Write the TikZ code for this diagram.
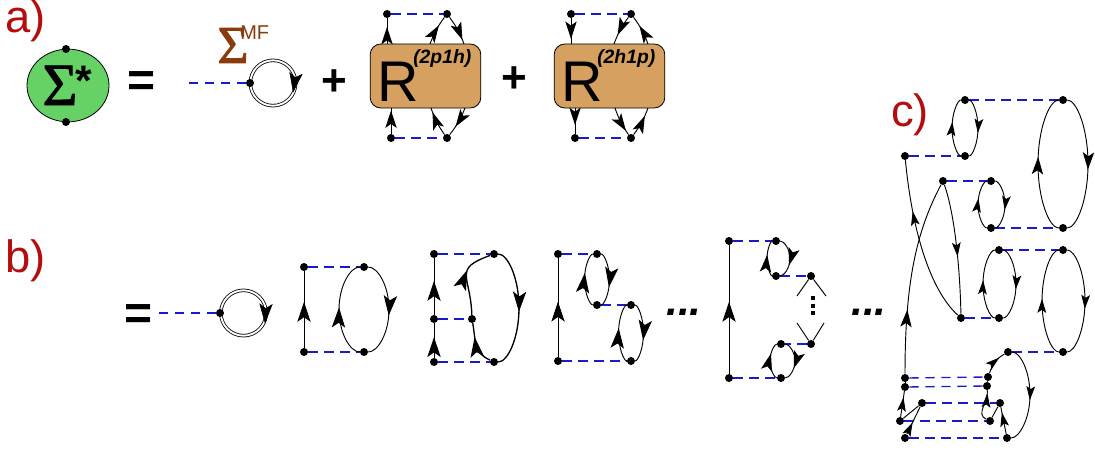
\documentclass[tikz,border=0pt]{standalone}
\usepackage{fontspec}
\setmainfont{Liberation Sans}
\newfontfamily\sigmafont[FakeBold=1.5]{Liberation Serif}
\usetikzlibrary{arrows.meta,decorations.markings,shapes.geometric,calc}
\newcommand\fsz[1]{\fontsize{#1}{#1}\selectfont}
\definecolor{lblred}{HTML}{B50D0D}
\definecolor{sgreen}{HTML}{66D266}
\definecolor{sbrown}{HTML}{8B3A0B}
\definecolor{rtan}{HTML}{D6A060}
\definecolor{vblue}{HTML}{1A1ACD}
\tikzset{
  tipL/.style={postaction={decorate,decoration={markings,mark=at position #1 with {\arrow{Stealth[length=15pt,width=10pt,inset=3.5pt]}}}}},
  tipM/.style={postaction={decorate,decoration={markings,mark=at position #1 with {\arrow{Stealth[length=13pt,width=8.5pt,inset=3pt]}}}}},
  tipS/.style={postaction={decorate,decoration={markings,mark=at position #1 with {\arrow{Stealth[length=10.5pt,width=6.5pt,inset=2.2pt]}}}}},
  dotn/.style={circle,fill=black,inner sep=0pt,minimum size=6pt},
  vint/.style={draw=vblue,line width=1.2pt,dash pattern=on 7pt off 5pt},
  prop/.style={draw=black,line width=.7pt},
  % half ellipse from node to node, bulging by #1 px (positive: to the right)
  ell/.style={to path={let \p1=(\tikztostart.center),\p2=(\tikztotarget.center),
      \n1={(#1)*.75pt},\n2={.5*(\y1+\y2)},\n3={.27615*(\y2-\y1)} in
      .. controls (\x1+.5523*\n1,\y1) and (\x1+\n1,\n2-\n3) .. (\x1+\n1,\n2)
      .. controls (\x1+\n1,\n2+\n3) and (\x2+.5523*\n1,\y2) .. (\tikztotarget) \tikztonodes}},
  txt/.style={anchor=base,inner sep=0pt},
  rbox/.style={draw=black,line width=.6pt,fill=rtan,rounded corners=8pt,minimum width=83pt,minimum height=48pt,inner sep=0pt},
  dprop/.style={circle,draw=black,double=white,double distance=1.4pt,line width=.6pt,inner sep=0pt,minimum size=34pt},
  lbl/.style={anchor=base west,inner sep=0pt,text=lblred,font=\fsz{34}},
}
\begin{document}
\begin{tikzpicture}[x=.75pt,y=-.75pt]
\useasboundingbox (0,0) rectangle (1095,453);
% labels
\node[lbl] (la) at (5,33) {a)};
\node[lbl] (lb) at (5,272) {b)};
\node[lbl] (lc) at (891,126) {c)};
% ---------- a) ----------
\node[ellipse,draw=black,line width=.6pt,fill=sgreen,minimum width=61.5pt,minimum height=54.5pt,inner sep=0pt] (sig) at (68,85.5) {};
\node[dotn] (s1) at (66,49) {};
\node[dotn] (s2) at (66,122) {};
\node[txt,font=\sigmafont\fsz{45}] (sigt) at (60,105) {Σ};
\node[txt,font=\bfseries\fsz{32}] (star) at (84,95) {*};
\node[txt,font=\bfseries\fsz{36}] (eq1) at (142,97) {=};
\node[txt,font=\sigmafont\fsz{40},text=sbrown] (smf) at (233,63) {Σ};
\node[anchor=base west,inner sep=0pt,font=\fsz{15},text=sbrown] (mf) at (240,40) {MF};
\coordinate (a0) at (189,83);
\node[dprop] (c1) at (273,83) {};
\node[dotn] (a1) at (250,83) {};
\draw[vint] (a0) -- (a1);
\coordinate (a2) at (296,73);
\coordinate (a3) at (293,93);
\path[tipL=.98] (a2) -- (a3);
\node[txt,font=\bfseries\fsz{33}] (p1) at (334,95) {+};
\node[txt,font=\bfseries\fsz{33}] (p2) at (514,93) {+};
% box 1
\node[rbox] (r1) at (425.5,76) {};
\node[anchor=base west,inner sep=0pt,font=\fsz{43}] (r1t) at (377,102) {R};
\node[anchor=base west,inner sep=0pt,font=\bfseries\itshape\fsz{14.5}] (r1s) at (413,64) {(2p1h)};
\node[dotn] (t1) at (387,14) {};
\node[dotn] (t2) at (447,14) {};
\node[dotn] (t3) at (391,138) {};
\node[dotn] (t4) at (447,138) {};
\coordinate (e1) at (387,44);
\coordinate (e2) at (430,44);
\coordinate (e3) at (464,44);
\coordinate (e4) at (391,108);
\coordinate (e5) at (431,108);
\coordinate (e6) at (465,108);
\draw[vint] (t1) -- (t2);
\draw[vint] (t3) -- (t4);
\draw[prop,tipM=.66] (e1) -- (t1);
\draw[prop,tipM=.68] (e2) to[bend left=8] (t2);
\draw[prop,tipM=.85] (t2) to[bend left=8] (e3);
\draw[prop,tipM=.9] (t3) -- (e4);
\draw[prop,tipM=.85] (t4) to[bend left=8] (e5);
\draw[prop,tipM=.68] (e6) to[bend left=8] (t4);
% box 2
\node[rbox] (r2) at (609.5,76) {};
\node[anchor=base west,inner sep=0pt,font=\fsz{43}] (r2t) at (561,102) {R};
\node[anchor=base west,inner sep=0pt,font=\bfseries\itshape\fsz{14.5}] (r2s) at (597,64) {(2h1p)};
\node[dotn] (u1) at (571,14) {};
\node[dotn] (u2) at (631,14) {};
\node[dotn] (u3) at (575,138) {};
\node[dotn] (u4) at (631,138) {};
\coordinate (f1) at (571,44);
\coordinate (f2) at (614,44);
\coordinate (f3) at (648,44);
\coordinate (f4) at (575,108);
\coordinate (f5) at (615,108);
\coordinate (f6) at (648,108);
\draw[vint] (u1) -- (u2);
\draw[vint] (u3) -- (u4);
\draw[prop,tipM=.8] (u1) -- (f1);
\draw[prop,tipM=.68] (u2) to[bend right=8] (f2);
\draw[prop,tipM=.66] (f3) to[bend right=8] (u2);
\draw[prop,tipM=.66] (f4) -- (u3);
\draw[prop,tipM=.85] (f5) to[bend right=8] (u4);
\draw[prop,tipM=.72] (u4) to[bend right=8] (f6);
% ---------- b) ----------
\node[txt,font=\bfseries\fsz{36}] (eq2) at (139,329) {=};
\coordinate (b0) at (159,313);
\node[dprop] (c2) at (243.5,313) {};
\node[dotn] (b1) at (220,313) {};
\draw[vint] (b0) -- (b1);
\coordinate (b2) at (266,304);
\coordinate (b3) at (265,324);
\path[tipL=.98] (b2) -- (b3);
% diagram 2
\node[dotn] (d1) at (304,267) {};
\node[dotn] (d2) at (304,352) {};
\node[dotn] (d3) at (364,267) {};
\node[dotn] (d4) at (364,352) {};
\draw[vint] (d1) -- (d3);
\draw[vint] (d2) -- (d4);
\draw[prop,tipL=.6] (d2) -- (d1);
\draw[prop,tipL=.56,ell=25] (d3) to (d4);
\draw[prop,tipL=.52,ell=-25] (d4) to (d3);
% diagram 3
\node[dotn] (g1) at (434,254) {};
\node[dotn] (g2) at (434,319) {};
\node[dotn] (g3) at (434,362) {};
\node[dotn] (g4) at (494,254) {};
\node[dotn] (g5) at (472,319) {};
\node[dotn] (g6) at (494,362) {};
\draw[vint] (g1) -- (g4);
\draw[vint] (g2) -- (g5);
\draw[vint] (g3) -- (g6);
\draw[prop,tipL=.6] (g2) -- (g1);
\draw[prop,tipL=.6] (g3) -- (g2);
\draw[prop,line width=1pt,tipL=.53,ell=25] (g4) to (g6);
\draw[prop,line width=1pt,tipL=.68] (g6) to[out=155,in=-80,distance=14pt] (g5);
\draw[prop,line width=1pt,tipL=.62] (g5) to[out=92,in=200,distance=30pt] (g4);
% diagram 4
\node[dotn] (h1) at (558,254) {};
\node[dotn] (h2) at (558,361) {};
\node[dotn] (h3) at (597,254) {};
\node[dotn] (h4) at (597,305) {};
\node[dotn] (h5) at (631,305) {};
\node[dotn] (h6) at (631,361) {};
\draw[vint] (h1) -- (h3);
\draw[vint] (h4) -- (h5);
\draw[vint] (h2) -- (h6);
\draw[prop,tipL=.56] (h2) -- (h1);
\draw[prop,tipL=.64,ell=12.5] (h3) to (h4);
\draw[prop,tipL=.62,ell=-12.5] (h4) to (h3);
\draw[prop,tipL=.62,ell=12.5] (h5) to (h6);
\draw[prop,tipL=.58,ell=-12.5] (h6) to (h5);
% dots
\node[txt,font=\bfseries\itshape\fsz{32}] (el1) at (684,315) {...};
\node[txt,font=\bfseries\itshape\fsz{32}] (el2) at (869,315) {...};
% diagram 5
\node[dotn] (i1) at (729,241) {};
\node[dotn] (i2) at (729,378) {};
\node[dotn] (i3) at (776,241) {};
\node[dotn] (i4) at (776,276) {};
\node[dotn] (i5) at (811,276) {};
\node[dotn] (i6) at (811,344) {};
\node[dotn] (i7) at (781,344) {};
\node[dotn] (i8) at (781,378) {};
\draw[vint] (i1) -- (i3);
\draw[vint] (i4) -- (i5);
\draw[vint] (i6) -- (i7);
\draw[vint] (i2) -- (i8);
\draw[prop,tipL=.56] (i2) -- (i1);
\draw[prop,tipM=.66,ell=14] (i3) to (i4);
\draw[prop,tipM=.6,ell=-9] (i4) to (i3);
\draw[prop,tipM=.68,ell=14] (i7) to (i8);
\draw[prop,tipM=.7,ell=-11] (i8) to (i7);
\coordinate (v1) at (797,296);
\coordinate (v2) at (826,296);
\coordinate (v3) at (797,323);
\coordinate (v4) at (824,323);
\draw[prop] (i5) -- (v1);
\draw[prop] (i5) -- (v2);
\draw[prop] (i6) -- (v3);
\draw[prop] (i6) -- (v4);
\node[fill=black,inner sep=0pt,minimum size=2.4pt] (w1) at (813,298) {};
\node[fill=black,inner sep=0pt,minimum size=2.4pt] (w2) at (813,306) {};
\node[fill=black,inner sep=0pt,minimum size=2.4pt] (w3) at (813,313) {};
% ---------- c) ----------
\node[dotn] (A) at (965,100) {};
\node[dotn] (B) at (965,156) {};
\node[dotn] (C) at (905,156) {};
\node[dotn] (D) at (1063,100) {};
\node[dotn] (E) at (1063,228) {};
\node[dotn] (F) at (943,181) {};
\node[dotn] (G) at (991,181) {};
\node[dotn] (H) at (991,228) {};
\node[dotn] (I) at (999,250) {};
\node[dotn] (J) at (1063,250) {};
\node[dotn] (K) at (961,318) {};
\node[dotn] (L) at (999,318) {};
\node[dotn] (M) at (1008,352) {};
\node[dotn] (N) at (1063,352) {};
\node[dotn] (P) at (905,378) {};
\node[dotn] (Pb) at (905,387) {};
\node[dotn] (Q) at (988,377) {};
\node[dotn] (Qb) at (987,386) {};
\node[dotn] (R) at (922,403) {};
\node[dotn] (S) at (1000,403) {};
\node[dotn] (T) at (900,421) {};
\node[dotn] (U) at (990,421) {};
\node[dotn] (V) at (905,438) {};
\node[dotn] (W) at (1007,438) {};
\draw[vint] (A) -- (D);
\draw[vint] (C) -- (B);
\draw[vint] (F) -- (G);
\draw[vint] (H) -- (E);
\draw[vint] (I) -- (J);
\draw[vint] (K) -- (L);
\draw[vint] (M) -- (N);
\draw[vint,line width=1pt] (P) -- (Q);
\draw[vint,line width=1pt] (Pb) -- (Qb);
\draw[vint] (R) -- (S);
\draw[vint] (T) -- (U);
\draw[vint] (V) -- (W);
\draw[prop,tipS=.58,ell=13] (A) to (B);
\draw[prop,tipS=.6,ell=-13] (B) to (A);
\draw[prop,tipM=.54,ell=25] (D) to (E);
\draw[prop,tipM=.55,ell=-25] (E) to (D);
\draw[prop,tipS=.6,ell=14] (G) to (H);
\draw[prop,tipS=.62,ell=-13] (H) to (G);
\draw[prop,tipS=.57,ell=17] (I) to (L);
\draw[prop,tipS=.55,ell=-16] (L) to (I);
\draw[prop,tipS=.57,ell=22] (J) to (N);
\draw[prop,tipS=.52,ell=-21] (N) to (J);
\draw[prop,tipM=.33] (P) .. controls (905,280) and (917,230) .. (F);
\draw[prop,tipS=.69] (K) .. controls (930,290) and (912,230) .. (C);
\draw[prop,tipS=.56] (F) .. controls (955,215) and (960,270) .. (K);
\draw[prop] (P) -- (Pb);
\draw[prop] (Q) -- (Qb);
\draw[prop,tipS=.75] (Q) to[out=70,in=210] (M);
\draw[prop,tipS=.55,ell=22] (M) to (W);
\draw[prop,tipS=.9] (U) to[out=155,in=-85,distance=9pt] (Qb);
\draw[prop] (U) -- (S);
\draw[prop,tipS=.8] (W) -- (S);
\draw[prop,tipS=.76] (T) -- (Pb);
\draw[prop] (T) -- (R);
\draw[prop,tipS=.43] (V) -- (R);
\end{tikzpicture}
\end{document}
